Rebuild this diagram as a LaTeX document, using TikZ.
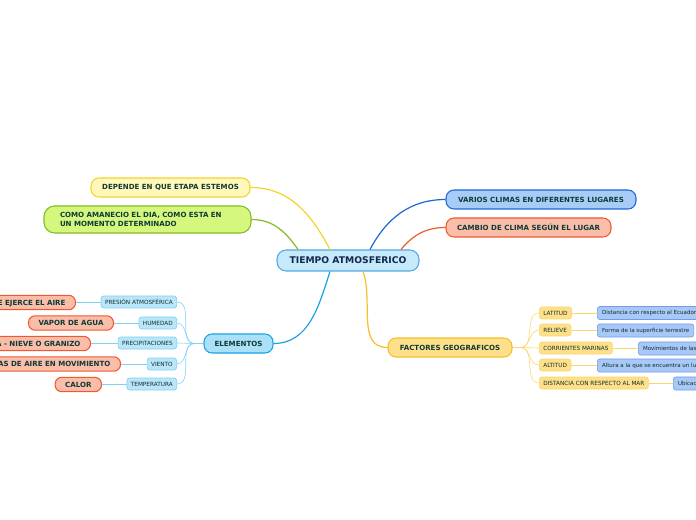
\documentclass[tikz,border=0pt]{standalone}
\usepackage{fontspec}
\setmainfont{DejaVu Sans}
\usetikzlibrary{calc}
\definecolor{inktext}{RGB}{16,58,52}
\definecolor{inknavy}{RGB}{18,40,74}
\definecolor{centerfill}{RGB}{198,234,251}
\definecolor{centerline}{RGB}{84,170,228}
\definecolor{bluefill}{RGB}{168,204,248}
\definecolor{blueline}{RGB}{30,102,214}
\definecolor{salmonfill}{RGB}{249,189,170}
\definecolor{salmonline}{RGB}{238,90,45}
\definecolor{yellowfill}{RGB}{255,248,186}
\definecolor{yellowline}{RGB}{242,212,42}
\definecolor{limefill}{RGB}{213,247,126}
\definecolor{limeline}{RGB}{132,186,36}
\definecolor{skyfill}{RGB}{170,225,249}
\definecolor{skyline}{RGB}{27,161,226}
\definecolor{skylight}{RGB}{186,230,250}
\definecolor{skythin}{RGB}{130,208,244}
\definecolor{goldfill}{RGB}{255,224,138}
\definecolor{goldline}{RGB}{247,190,42}
\definecolor{goldthin}{RGB}{250,214,110}
\definecolor{leaffill}{RGB}{168,200,248}
\definecolor{leafline}{RGB}{110,158,232}

\begin{document}
\begin{tikzpicture}[x=0.75pt,y=-0.75pt,
    topic/.style={draw, line width=0.8pt, rounded corners=6pt, inner sep=0pt,
        text=inktext, font=\fontsize{5.3}{6.7}\selectfont\bfseries},
    subtopic/.style={draw, line width=0.5pt, rounded corners=2pt, inner xsep=3pt,
        inner ysep=0pt, minimum height=9pt, text=inktext!80!black,
        font=\fontsize{4.3}{5}\selectfont},
    leaftopic/.style={draw, line width=0.8pt, rounded corners=5pt, inner xsep=7.5pt,
        inner ysep=0pt, minimum height=10.8pt, fill=salmonfill, draw=salmonline,
        text=inktext, font=\fontsize{5.3}{6}\selectfont\bfseries},
    note/.style={draw, line width=0.5pt, rounded corners=2pt, inner xsep=3.5pt,
        inner ysep=0pt, minimum height=9.8pt, fill=leaffill, draw=leafline,
        text=inktext!80!black, font=\fontsize{4.15}{5}\selectfont},
    link/.style={line width=0.9pt},
    thin/.style={line width=0.45pt}]
\useasboundingbox (0,0) rectangle (696,520);

% Central topic
\node[topic, fill=centerfill, draw=centerline, text=inknavy, minimum width=142*0.75pt,
    minimum height=21*0.75pt, rounded corners=7pt, font=\fontsize{6.9}{8}\selectfont\bfseries]
    (central) at (348,260.5) {TIEMPO ATMOSFERICO};

% Main topics
\node[topic, fill=bluefill, draw=blueline, minimum width=190*0.75pt, minimum height=19*0.75pt]
    (varios) at (541,199.5) {VARIOS CLIMAS EN DIFERENTES LUGARES};
\node[topic, fill=salmonfill, draw=salmonline, minimum width=165*0.75pt, minimum height=19*0.75pt]
    (cambio) at (528.5,227.5) {CAMBIO DE CLIMA SEGÚN EL LUGAR};
\node[topic, fill=yellowfill, draw=yellowline, minimum width=159*0.75pt, minimum height=19*0.75pt]
    (depende) at (170.5,187.5) {DEPENDE EN QUE ETAPA ESTEMOS};
\node[topic, fill=limefill, draw=limeline, minimum width=207*0.75pt, minimum height=27*0.75pt,
    rounded corners=8pt, align=left, text width=207*0.75pt-24pt, inner xsep=12pt]
    (como) at (147.5,219.5) {COMO AMANECIO EL DIA, COMO ESTA EN\\UN MOMENTO DETERMINADO};
\node[topic, fill=skyfill, draw=skyline, minimum width=69*0.75pt, minimum height=19*0.75pt]
    (elementos) at (238.5,343.5) {ELEMENTOS};
\node[topic, fill=goldfill, draw=goldline, minimum width=124*0.75pt, minimum height=19*0.75pt]
    (factores) at (450,347.5) {FACTORES GEOGRAFICOS};

% Connectors from the centre
\draw[link, blueline] ($(central.north)+(22,0)$) to[out=62,in=180] (varios.west);
\draw[link, salmonline] ($(central.north)+(53,0)$) to[out=50,in=180] (cambio.west);
\draw[link, yellowline] ($(central.north)+(-18,0)$) to[out=118,in=0] (depende.east);
\draw[link, limeline] ($(central.north)+(-50,0)$) to[out=125,in=0] (como.east);
\draw[link, skyline] ($(central.south)+(-18,0)$) to[out=-108,in=0] (elementos.east);
\draw[link, goldline] ($(central.south)+(15,0)$) to[out=-70,in=180] (factores.west);

% Elementos
\foreach \name/\y/\txt in {presion/302/PRESIÓN ATMOSFÉRICA, humedad/323/HUMEDAD,
    precip/343/PRECIPITACIONES, viento/364/VIENTO, temp/384/TEMPERATURA}
    \node[subtopic, fill=skylight, draw=skythin, anchor=east] (\name) at (177,\y) {\txt};
\coordinate (elhub) at ($(elementos.west)+(-9,0)$);
\draw[thin, skythin] (elementos.west) -- (elhub);
\foreach \name in {presion, humedad, precip, viento, temp}
    \draw[thin, skythin] (elhub) to[out=180,in=0] (\name.east);

\node[leaftopic, anchor=east] (presleaf) at (76,302.5) {PRESIÓN QUE EJERCE EL AIRE};
\node[leaftopic, anchor=east] (vapor) at (114,323) {VAPOR DE AGUA};
\node[leaftopic, anchor=east] (lluvia) at (91,343.5) {LLUVIA - NIEVE O GRANIZO};
\node[leaftopic, anchor=east] (masas) at (121,364) {MASAS DE AIRE EN MOVIMIENTO};
\node[leaftopic, anchor=east] (calor) at (102,384.5) {CALOR};
\draw[thin, skythin] (presion.west) -- (presion.west -| presleaf.east);
\draw[thin, skythin] (humedad.west) -- (humedad.west -| vapor.east);
\draw[thin, skythin] (precip.west) -- (precip.west -| lluvia.east);
\draw[thin, skythin] (viento.west) -- (viento.west -| masas.east);
\draw[thin, skythin] (temp.west) -- (temp.west -| calor.east);

% Factores geograficos
\foreach \name/\y/\txt in {latitud/313/LATITUD, relieve/330/RELIEVE,
    corrientes/348/CORRIENTES MARINAS, altitud/365/ALTITUD,
    distmar/383/DISTANCIA CON RESPECTO AL MAR}
    \node[subtopic, fill=goldfill, draw=goldthin, anchor=west] (\name) at (539,\y) {\txt};
\coordinate (fahub) at ($(factores.east)+(8,0)$);
\draw[thin, goldthin] (factores.east) -- (fahub);
\foreach \name in {latitud, relieve, corrientes, altitud, distmar}
    \draw[thin, goldthin] (fahub) to[out=0,in=180] (\name.west);

\node[note, anchor=west] (ecuador) at (597,313) {Distancia con respecto al Ecuador};
\node[note, anchor=west] (forma) at (597,330.5) {Forma de la superficie terrestre};
\node[note, anchor=west] (movim) at (638,348.5) {Movimientos de las aguas};
\node[note, anchor=west] (alturanote) at (597,365.5) {Altura a la que se encuentra un lugar};
\node[note, anchor=west] (ubicacion) at (673,383.5) {Ubicación};
\draw[thin, goldthin] (latitud.east) -- (latitud.east -| ecuador.west);
\draw[thin, goldthin] (relieve.east) -- (relieve.east -| forma.west);
\draw[thin, goldthin] (corrientes.east) -- (corrientes.east -| movim.west);
\draw[thin, goldthin] (altitud.east) -- (altitud.east -| alturanote.west);
\draw[thin, goldthin] (distmar.east) -- (distmar.east -| ubicacion.west);
\end{tikzpicture}
\end{document}
